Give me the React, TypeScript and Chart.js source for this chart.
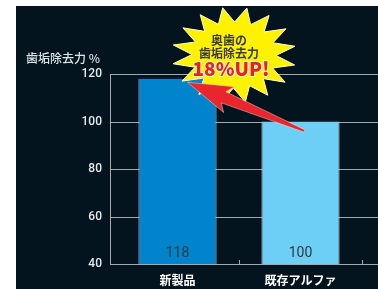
import React, { useEffect, useRef } from "react";
import { Chart, registerables } from "chart.js";

Chart.register(...registerables);

const categories = ["新製品", "既存アルファ"];
const values = [118, 100];
const barColors = ["#0284cc", "#6dcff6"];
const yTicks = [40, 60, 80, 100, 120];
const yTitle = "歯垢除去力 %";
const burstLines = ["奥歯の", "歯垢除去力"];
const burstHighlight = "18%UP!";

const W = 362;
const H = 283;
const GRID = "#a4a9ad";
const CJK = '"Noto Sans CJK JP", "Noto Sans", sans-serif';

const decorPlugin = {
  id: "decor",
  beforeDraw(chart: any) {
    const { ctx } = chart;
    ctx.save();
    ctx.fillStyle = "#03141f";
    ctx.fillRect(0, 0, chart.width, chart.height);
    ctx.restore();
  },
  beforeDatasetsDraw(chart: any) {
    const { ctx, chartArea } = chart;
    const y = chart.scales.y;
    const x = chart.scales.x;
    const axisX = chartArea.left - 6;
    ctx.save();
    ctx.strokeStyle = GRID;
    ctx.lineWidth = 1;
    yTicks.forEach((v) => {
      const py = Math.round(y.getPixelForValue(v)) + 0.5;
      ctx.beginPath();
      ctx.moveTo(axisX, py);
      ctx.lineTo(chart.width, py);
      ctx.stroke();
    });
    ctx.beginPath();
    ctx.moveTo(axisX + 0.5, Math.round(y.getPixelForValue(120)));
    ctx.lineTo(axisX + 0.5, Math.round(y.getPixelForValue(40)) + 1);
    ctx.stroke();
    const step = x.getPixelForValue(1) - x.getPixelForValue(0);
    for (let i = 0; i < categories.length; i++) {
      const px = Math.round(x.getPixelForValue(i) + step / 2) + 0.5;
      const by = Math.round(y.getPixelForValue(40));
      ctx.beginPath();
      ctx.moveTo(px, by - 4);
      ctx.lineTo(px, by);
      ctx.stroke();
    }
    // y title
    ctx.fillStyle = "#dde3e6";
    ctx.font = `500 12px ${CJK}`;
    ctx.textAlign = "right";
    ctx.textBaseline = "middle";
    ctx.fillText(yTitle, chartArea.left - 16, y.getPixelForValue(120) - 16);
    ctx.restore();
  },
  afterDatasetsDraw(chart: any) {
    const { ctx } = chart;
    const y = chart.scales.y;
    const x = chart.scales.x;
    const meta = chart.getDatasetMeta(0);
    ctx.save();
    // value labels
    ctx.font = `400 14px Roboto, sans-serif`;
    ctx.fillStyle = "#2d3a42";
    ctx.textAlign = "center";
    ctx.textBaseline = "middle";
    meta.data.forEach((el: any, i: number) => {
      ctx.fillText(String(values[i]), el.x, y.getPixelForValue(40) - 11);
    });

    // starburst
    const cx = (x.getPixelForValue(0) + x.getPixelForValue(1)) / 2 - 5;
    const cy = y.getPixelForValue(128);
    const n = 16;
    const orx = 62, ory = 48, irx = 42, iry = 33;
    ctx.beginPath();
    for (let k = 0; k < n * 2; k++) {
      const a = -Math.PI / 2 + (Math.PI * 2 * (k / (n * 2))) + (12 * Math.PI) / 180;
      const rx = k % 2 === 0 ? orx : irx;
      const ry = k % 2 === 0 ? ory : iry;
      const px = cx + Math.cos(a) * rx;
      const py = cy + Math.sin(a) * ry;
      if (k === 0) ctx.moveTo(px, py);
      else ctx.lineTo(px, py);
    }
    ctx.closePath();
    ctx.fillStyle = "#fff200";
    ctx.fill();
    ctx.strokeStyle = "#fffbd0";
    ctx.lineWidth = 1;
    ctx.stroke();

    ctx.textAlign = "center";
    ctx.textBaseline = "middle";
    ctx.font = `700 12px ${CJK}`;
    ctx.fillStyle = "#3a3a36";
    ctx.fillText(burstLines[0], cx - 5, cy - 15);
    ctx.fillText(burstLines[1], cx - 5, cy - 2);
    ctx.font = `900 19px ${CJK}`;
    ctx.lineWidth = 2;
    ctx.strokeStyle = "#fff8c0";
    ctx.strokeText(burstHighlight, cx - 3, cy + 14);
    ctx.fillStyle = "#e8202a";
    ctx.fillText(burstHighlight, cx - 3, cy + 14);

    // arrow
    const tipX = meta.data[0].x + 10;
    const tipY = y.getPixelForValue(116.5);
    const tailX = meta.data[1].x + 4;
    const tailY = y.getPixelForValue(96);
    const dx = tipX - tailX, dy = tipY - tailY;
    const len = Math.hypot(dx, dy);
    const ux = dx / len, uy = dy / len;
    const nx = uy, ny = -ux;
    const headLen = 45, headW = 14, neckW = 6, tailW = 1.2;
    const bx = tipX - ux * headLen, by = tipY - uy * headLen;
    const nbx = tipX - ux * (headLen - 6), nby = tipY - uy * (headLen - 6);
    ctx.beginPath();
    ctx.moveTo(tipX, tipY);
    ctx.lineTo(bx - nx * headW, by - ny * headW);
    ctx.lineTo(nbx - nx * neckW, nby - ny * neckW);
    ctx.lineTo(tailX - nx * tailW, tailY - ny * tailW);
    ctx.lineTo(tailX + nx * tailW, tailY + ny * tailW);
    ctx.lineTo(nbx + nx * neckW, nby + ny * neckW);
    ctx.lineTo(bx + nx * headW, by + ny * headW);
    ctx.closePath();
    ctx.fillStyle = "#e8262b";
    ctx.fill();
    ctx.strokeStyle = "rgba(255,220,220,0.6)";
    ctx.lineWidth = 0.8;
    ctx.stroke();
    ctx.restore();
  },
};

export default function App() {
  const ref = useRef<HTMLCanvasElement>(null);
  useEffect(() => {
    if (!ref.current) return;
    const chart = new Chart(ref.current, {
      type: "bar",
      data: {
        labels: categories,
        datasets: [
          {
            data: values,
            backgroundColor: barColors,
            borderColor: "#d4dadd",
            borderWidth: { left: 1, right: 1, top: 0, bottom: 0 },
            borderSkipped: "bottom",
            barPercentage: 0.635,
            categoryPercentage: 1,
          },
        ],
      },
      options: {
        animation: false,
        responsive: false,
        devicePixelRatio: 1,
        layout: { padding: { top: 68, right: 16, left: 0, bottom: 0 } },
        plugins: {
          legend: { display: false },
          tooltip: { enabled: false },
        },
        scales: {
          x: {
            grid: { display: false, drawTicks: false },
            border: { display: false },
            ticks: {
              color: "#ffffff",
              font: { family: CJK, size: 12, weight: "bold" },
              padding: 9,
            },
            afterFit(scale: any) {
              scale.height = 25;
            },
          },
          y: {
            min: 40,
            max: 120,
            grid: { display: false, drawTicks: false },
            border: { display: false },
            ticks: {
              stepSize: 20,
              color: "#e3e8ea",
              font: { family: "Roboto, sans-serif", size: 12, weight: 500 },
              padding: 14,
            },
            afterFit(scale: any) {
              scale.width = 100;
            },
          },
        },
      },
      plugins: [decorPlugin],
    });
    return () => chart.destroy();
  }, []);
  return (
    <div style={{ position: "absolute", left: 16, top: 6, width: W, height: H }}>
      <canvas ref={ref} width={W} height={H} style={{ width: W, height: H, display: "block" }} />
    </div>
  );
}
